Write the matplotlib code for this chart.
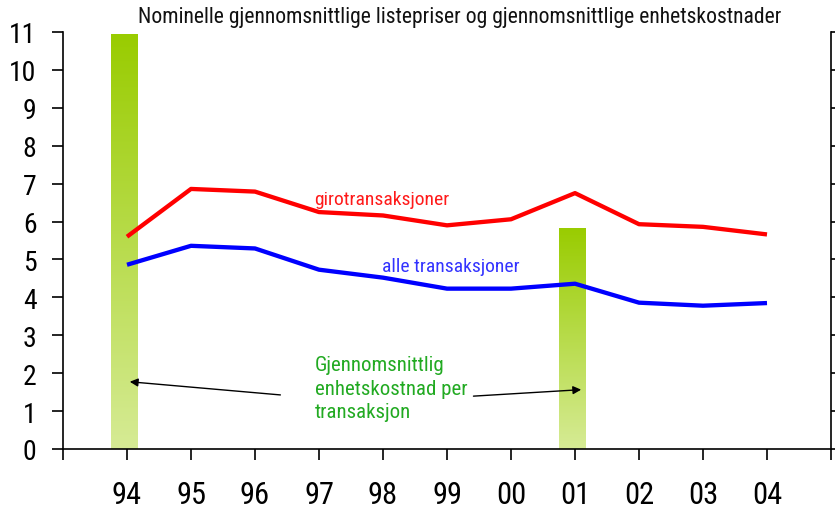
import numpy as np
import matplotlib
matplotlib.use("Agg")
import matplotlib.pyplot as plt
from matplotlib import font_manager as fm
from matplotlib.colors import LinearSegmentedColormap

# pick a narrow sans font if one is installed
def _stretch_val(s):
    if isinstance(s, (int, float)):
        return s
    return fm.stretch_dict.get(s, 500)

chosen = None
entries = fm.fontManager.ttflist
for nm in ['Liberation Sans Narrow', 'Arial Narrow', 'Roboto Condensed', 'Open Sans Condensed']:
    if any(e.name == nm for e in entries):
        chosen = (nm, 'normal')
        break
if chosen is None:
    cands = [e for e in entries
             if e.name in ('Noto Sans', 'DejaVu Sans', 'Open Sans', 'Roboto', 'Liberation Sans')
             and e.style == 'normal' and _stretch_val(e.stretch) <= 300
             and (e.weight in (400, 'normal', 'regular', 'book'))]
    if cands:
        cands.sort(key=lambda e: abs(_stretch_val(e.stretch) - 300))
        chosen = (cands[0].name, cands[0].stretch)
if chosen is None:
    chosen = ('Liberation Sans', 'normal')
plt.rcParams['font.family'] = [chosen[0], 'DejaVu Sans']
plt.rcParams['font.stretch'] = chosen[1]

years = ['94', '95', '96', '97', '98', '99', '00', '01', '02', '03', '04']
giro = [5.60, 6.86, 6.79, 6.25, 6.16, 5.90, 6.06, 6.75, 5.93, 5.86, 5.66]
alle = [4.86, 5.36, 5.29, 4.73, 4.52, 4.23, 4.23, 4.36, 3.86, 3.78, 3.85]
cost_years = ['94', '01']
cost_values = [10.95, 5.83]
yticks = list(range(0, 12))

fig = plt.figure(figsize=(8.35, 5.1), dpi=100)
ax = fig.add_axes([63/835, 1-450/510, (831-63)/835, (450-33)/510])

x = np.arange(len(years))
pos = {y: i for i, y in enumerate(years)}

# gradient bars
cmap = LinearSegmentedColormap.from_list('g', ['#d6eb95', '#99cc00'])
bx = [pos[c] - 0.04 for c in cost_years]
bars = ax.bar(bx, cost_values, width=0.42, color='none', zorder=1)
grad = np.linspace(0, 1, 256).reshape(-1, 1)
for b in bars:
    x0, y0 = b.get_x(), b.get_y()
    w, h = b.get_width(), b.get_height()
    im = ax.imshow(grad, cmap=cmap, origin='lower', aspect='auto',
                   extent=[x0, x0 + w, y0, y0 + h], zorder=1)
    im.set_clip_path(b)

ax.plot(x, giro, color='#ff0000', lw=3.1, zorder=3, solid_capstyle='butt')
ax.plot(x, alle, color='#0000ff', lw=3.1, zorder=3, solid_capstyle='butt')

ax.set_xlim(-1, 11)
ax.set_ylim(0, 11)
ax.set_aspect('auto')

ax.set_xticks(np.arange(-1, 12))
ax.set_xticklabels([''] + years + [''], fontsize=22)
ax.set_yticks(yticks)
ax.set_yticklabels([str(v) for v in yticks], fontsize=20)
ax.tick_params(axis='x', direction='out', length=8, width=1.2, pad=14)
ax.tick_params(axis='y', direction='out', length=8, width=1.2, pad=11,
               right=True)
for s in ['left', 'bottom', 'right']:
    ax.spines[s].set_linewidth(1.2)
ax.spines['top'].set_visible(False)

fig.text(460/835, 1-18/510, 'Nominelle gjennomsnittlige listepriser og gjennomsnittlige enhetskostnader',
         ha='center', va='center', fontsize=15.6, color='#111111')

ax.text(2.92, 6.6, 'girotransaksjoner', color='#ff1a1a', fontsize=14, ha='left', va='center')
ax.text(3.98, 4.83, 'alle transaksjoner', color='#3333ff', fontsize=14, ha='left', va='center')

ax.text(2.93, 1.6, 'Gjennomsnittlig\nenhetskostnad per\ntransaksjon', color='#22aa22',
        fontsize=15, ha='left', va='center', linespacing=1.3)
ax.annotate('', xy=(0.0, 1.78), xytext=(2.44, 1.42),
            arrowprops=dict(arrowstyle='-|>', color='black', lw=1, mutation_scale=12))
ax.annotate('', xy=(7.14, 1.57), xytext=(5.37, 1.39),
            arrowprops=dict(arrowstyle='-|>', color='black', lw=1, mutation_scale=12))

fig.savefig('out.png', dpi=100)
